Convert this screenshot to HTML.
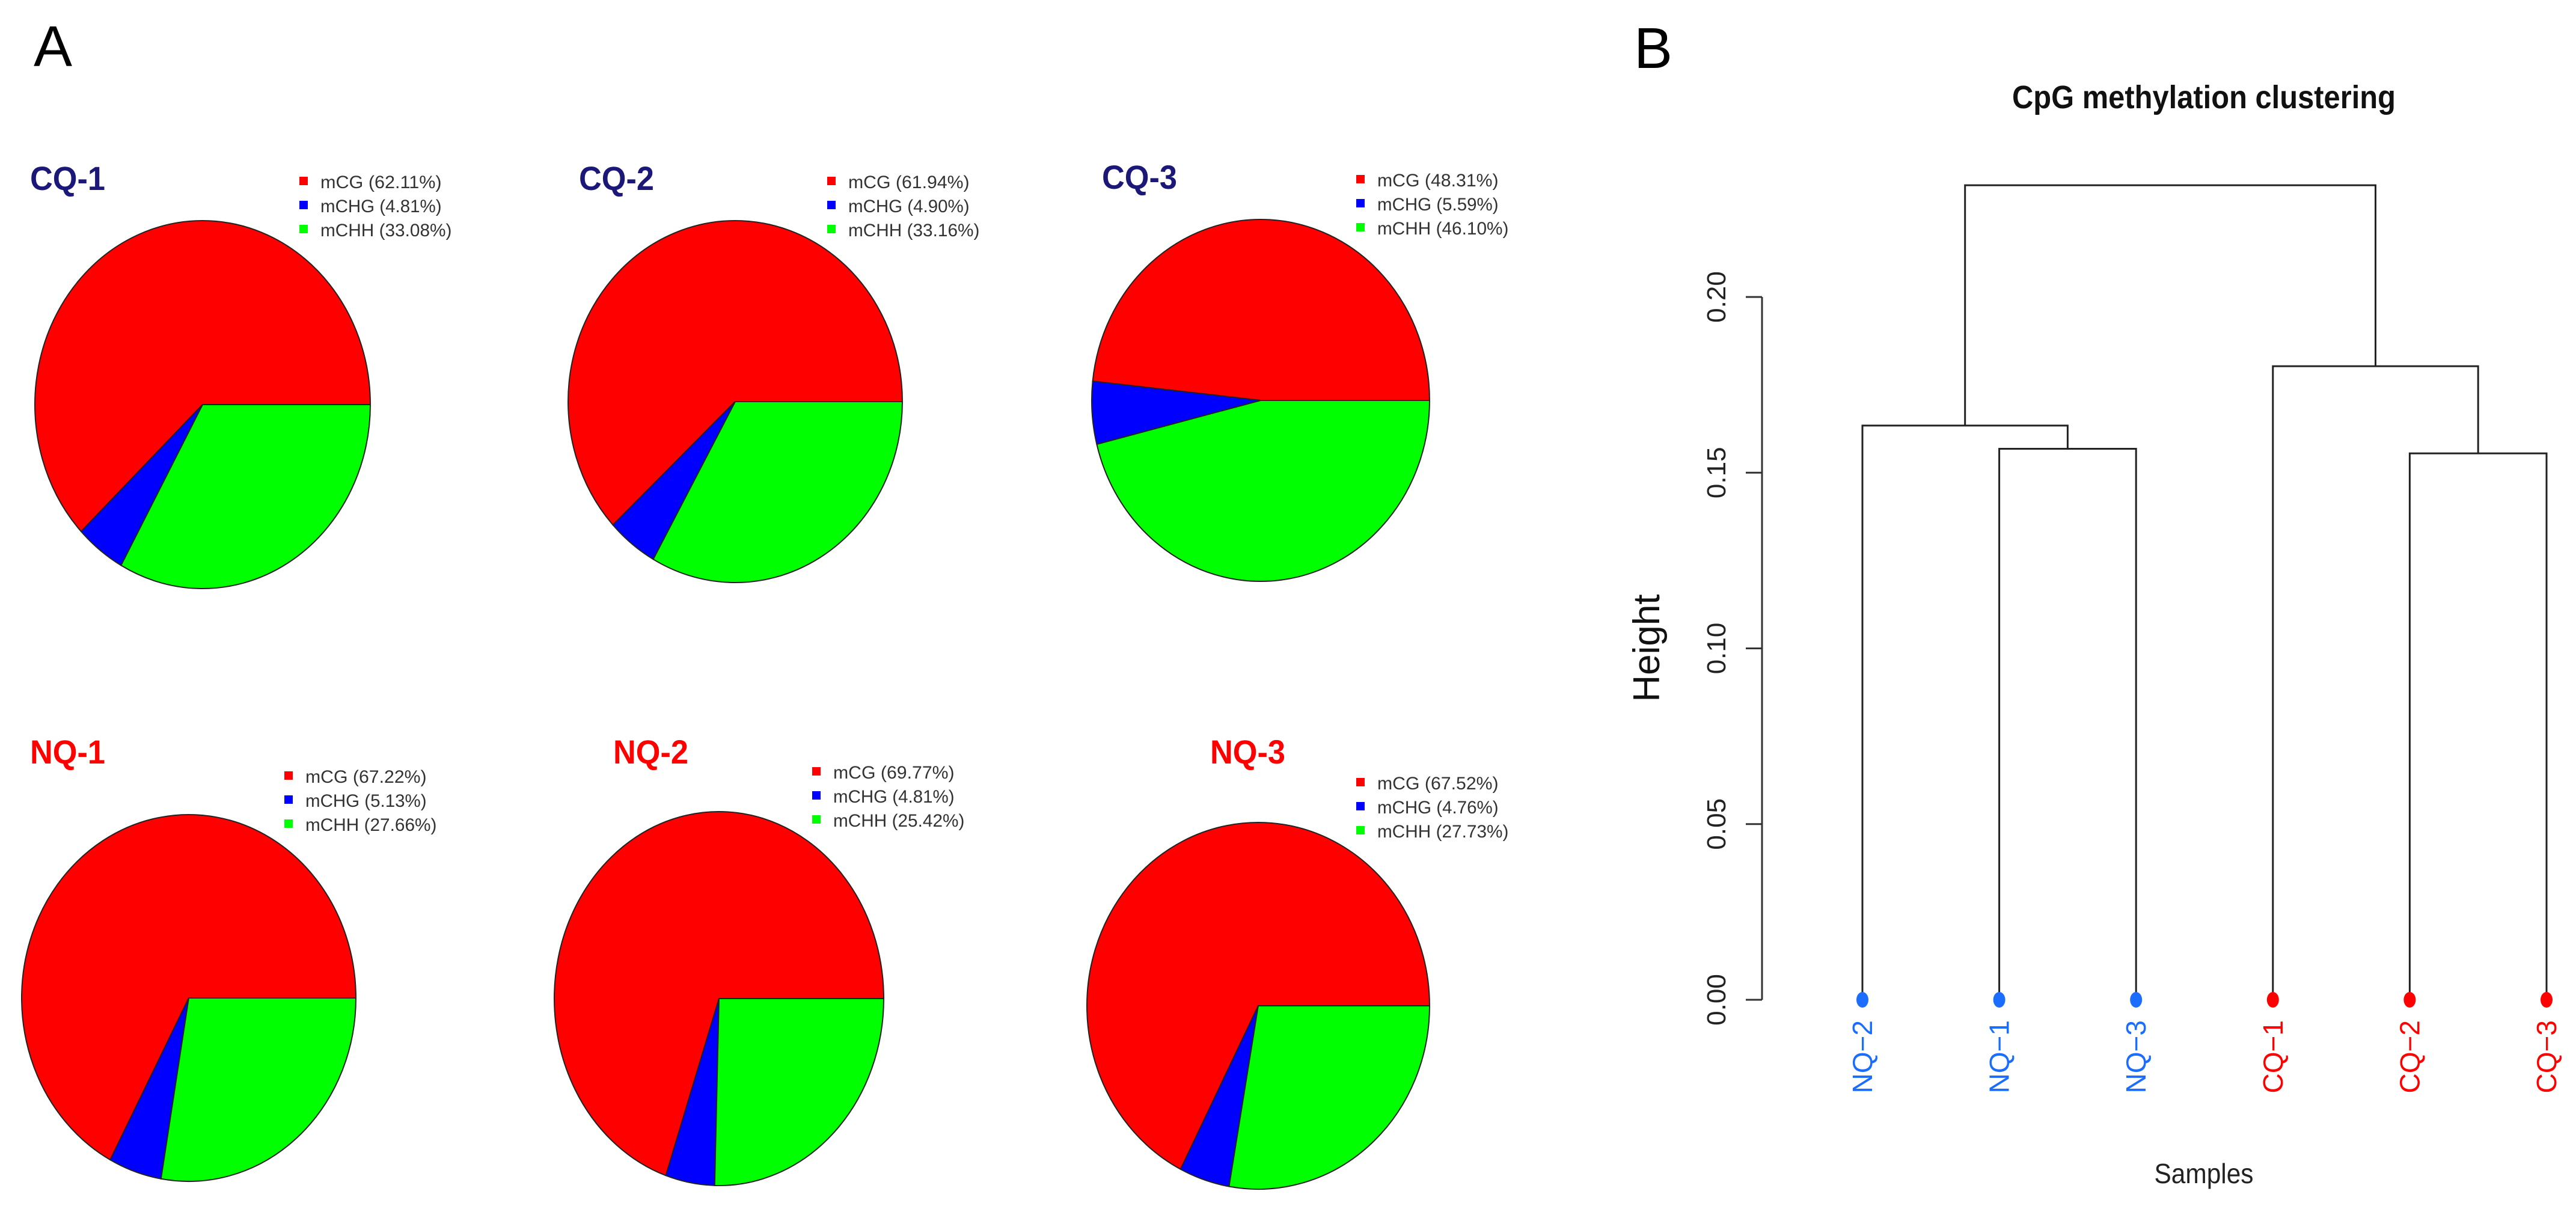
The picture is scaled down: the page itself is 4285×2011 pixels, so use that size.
<!DOCTYPE html>
<html><head><meta charset="utf-8">
<style>
html,body{margin:0;padding:0;background:#fff;}
svg{display:block;}
text{font-family:"Liberation Sans",sans-serif;}
</style></head>
<body>
<svg id="fig" width="4285" height="2011" viewBox="0 0 4285 2011" xmlns="http://www.w3.org/2000/svg">
<rect width="4285" height="2011" fill="#fff"/>
<text x="56" y="110" font-size="96">A</text>
<text x="2718" y="113" font-size="96">B</text>
<g id="pies"></g>
<g id="dendro"></g>
</svg>
<script>
const NS = "http://www.w3.org/2000/svg";
// ---- Pie data ----
const sampleNames = ["CQ-1","CQ-2","CQ-3","NQ-1","NQ-2","NQ-3"];
const categories = ["mCG","mCHG","mCHH"];
const mCG = [62.11, 61.94, 48.31, 67.22, 69.77, 67.52];
const mCHG = [4.81, 4.90, 5.59, 5.13, 4.81, 4.76];
const mCHH = [33.08, 33.16, 46.10, 27.66, 25.42, 27.73];
const sliceColors = ["#ff0000","#0000ff","#00ff00"];

// layout (not data)
const pieLayout = [
  {cx:337, cy:673, rx:279, ry:306, tx:50, ty:316, lx:505, ly:303, tc:"#1c1878"},
  {cx:1223, cy:668, rx:278, ry:301, tx:963, ty:316, lx:1383, ly:303, tc:"#1c1878"},
  {cx:2097, cy:666, rx:281, ry:301, tx:1833, ty:314, lx:2263, ly:300, tc:"#1c1878"},
  {cx:314, cy:1660, rx:278, ry:305, tx:50, ty:1270, lx:480, ly:1292, tc:"#ff0000"},
  {cx:1196, cy:1661, rx:274, ry:311, tx:1020, ty:1270, lx:1358, ly:1285, tc:"#ff0000"},
  {cx:2093, cy:1673, rx:285, ry:305, tx:2013, ty:1270, lx:2263, ly:1303, tc:"#ff0000"}
];
function mk(tag, attrs, parent){ const e=document.createElementNS(NS,tag); for(const k in attrs) e.setAttribute(k,attrs[k]); parent.appendChild(e); return e; }
const pies = document.getElementById("pies");
sampleNames.forEach((name,i)=>{
  const L = pieLayout[i];
  const vals = [mCG[i], mCHG[i], mCHH[i]];
  const tot = vals.reduce((a,b)=>a+b,0);
  const g = mk("g",{},pies);
  
  
  let a0 = 0;
  vals.forEach((v,j)=>{
    const a1 = a0 + v/tot*2*Math.PI;
    const x0 = L.cx + L.rx*Math.cos(a0), y0 = L.cy - L.ry*Math.sin(a0);
    const x1 = L.cx + L.rx*Math.cos(a1), y1 = L.cy - L.ry*Math.sin(a1);
    const large = (a1-a0) > Math.PI ? 1 : 0;
    const p = mk("path",{d:`M${L.cx},${L.cy} L${x0},${y0} A${L.rx},${L.ry} 0 ${large} 0 ${x1},${y1} Z`, fill:sliceColors[j], stroke:"#222", "stroke-width":"2"}, g);
    
    
    a0 = a1;
  });
  const t = mk("text",{x:L.tx, y:L.ty, "font-size":"56", "font-weight":"bold", fill:L.tc, textLength:"125", lengthAdjust:"spacingAndGlyphs"}, g);
  t.textContent = name;
  
  
  vals.forEach((v,j)=>{
    const yy = L.ly + j*40;
    const sq = mk("rect",{x:L.lx-7, y:yy-9, width:14, height:14, fill:sliceColors[j]}, g);
    
    
    const label = categories[j] + " (" + v.toFixed(2) + "%)";
    const lt = mk("text",{x:L.lx+28, y:yy+10, "font-size":"30", fill:"#333", textLength:String(label.length*16.8), lengthAdjust:"spacingAndGlyphs"}, g);
    lt.textContent = label;
    
    
  });
});

// ---- Dendrogram data ----
const leafLabels = ["NQ-2","NQ-1","NQ-3","CQ-1","CQ-2","CQ-3"];
const leafColors = ["#1a6dff","#1a6dff","#1a6dff","#ff0000","#ff0000","#ff0000"];
// merges: [left, right, height]; negative = leaf index (1-based), positive = earlier merge (1-based)
const mergeLeft = [-2, -5, -1, -4, 3];
const mergeRight = [-3, -6, 1, 2, 4];
const mergeHeights = [0.1568, 0.1555, 0.1634, 0.1803, 0.2318];
const yTicks = [0, 0.05, 0.10, 0.15, 0.20];
const yTickLabels = ["0.00","0.05","0.10","0.15","0.20"];

const d = document.getElementById("dendro");
const y0px = 1663, pxPerUnit = (1663-494)/0.20;
const yS = v => y0px - v*pxPerUnit;
const x0 = 3098, dx = (4236-3098)/5;
const xS = i => x0 + i*dx;
const axisX = 2931;
// axis
const ax = mk("g",{},d);


mk("line",{x1:axisX,x2:axisX,y1:yS(0),y2:yS(0.20),stroke:"#333","stroke-width":"3"},ax);
yTicks.forEach((v,i)=>{
  mk("line",{x1:axisX-27,x2:axisX,y1:yS(v),y2:yS(v),stroke:"#333","stroke-width":"3"},ax);
  const t = mk("text",{x:0,y:0,"font-size":"44","text-anchor":"middle",fill:"#222",transform:`translate(2870,${yS(v)}) rotate(-90)`},ax);
  t.textContent = yTickLabels[i];
  
  
});
const yt = mk("text",{x:0,y:0,"font-size":"62","text-anchor":"middle",fill:"#111",transform:"translate(2760,1078) rotate(-90)"},d);
yt.textContent = "Height";


const tt = mk("text",{x:3666,y:180,"font-size":"54","font-weight":"bold","text-anchor":"middle",fill:"#111",textLength:"638",lengthAdjust:"spacingAndGlyphs"},d);
tt.textContent = "CpG methylation clustering";


const xt = mk("text",{x:3666,y:1968,"font-size":"46","text-anchor":"middle",fill:"#222",textLength:"165",lengthAdjust:"spacingAndGlyphs"},d);
xt.textContent = "Samples";


// nodes
const nodeX = [], nodeY = [];
function pos(ref){ return ref<0 ? [xS(-ref-1), 0] : [nodeX[ref-1], nodeY[ref-1]]; }
const lines = mk("g",{},d);


mergeHeights.forEach((h,k)=>{
  const [xa,ha] = pos(mergeLeft[k]);
  const [xb,hb] = pos(mergeRight[k]);
  const p = mk("path",{d:`M${xa},${yS(ha)} V${yS(h)} H${xb} V${yS(hb)}`,fill:"none",stroke:"#222","stroke-width":"3"},lines);
  
  
  nodeX.push((xa+xb)/2); nodeY.push(h);
});
leafLabels.forEach((lab,i)=>{
  const c = mk("ellipse",{cx:xS(i),cy:yS(0),rx:10,ry:13,fill:leafColors[i]},d);
  
  
  const t = mk("text",{x:0,y:0,"font-size":"46","text-anchor":"end",fill:leafColors[i],transform:`translate(${xS(i)+16},${yS(0)+34}) rotate(-90)`},d);
  t.textContent = lab.replace("-","\u2212");
  
  
});
</script>
</body></html>
